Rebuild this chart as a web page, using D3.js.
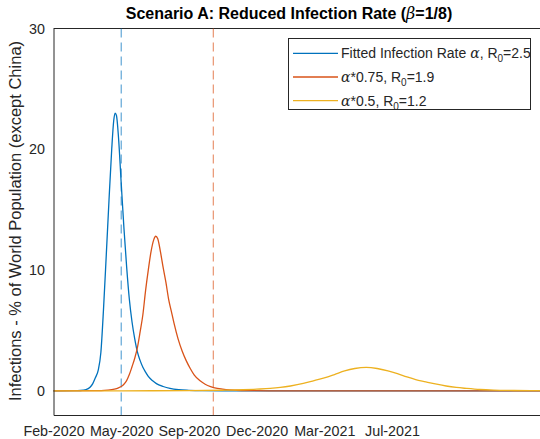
<!DOCTYPE html>
<html>
<head>
<meta charset="utf-8">
<script src="https://cdn.jsdelivr.net/npm/d3@7"></script>
<style>
body { margin: 0; background: #fff; }
text { font-family: "Liberation Sans", Arial, Helvetica, sans-serif; fill: #262626; }
</style>
</head>
<body>
<svg id="svg" width="540" height="439"></svg>
<script>
// days since start of axis (Feb-2020 tick)
var blueDays = [0, 30, 40, 48, 54, 58, 62, 66, 70, 74, 78, 82, 86, 89, 91, 93, 96, 100, 104, 108, 112, 116, 120, 124, 128, 132, 136, 140, 146, 152, 162, 172, 185, 200, 220, 250, 760];
var blueVals = [0, 0.01, 0.03, 0.1, 0.3, 0.6, 1.1, 1.7, 3.2, 6.9, 11.3, 15.8, 20.0, 22.4, 23.0, 22.8, 21.0, 17.2, 13.5, 10.3, 7.6, 5.7, 4.3, 3.2, 2.5, 1.95, 1.55, 1.2, 0.85, 0.6, 0.36, 0.2, 0.09, 0.04, 0.01, 0, 0];

var orangeDays = [0, 60, 80, 90, 96, 100, 104, 108, 112, 116, 120, 124, 128, 132, 136, 140, 144, 148, 151, 154, 158, 162, 166, 170, 174, 178, 184, 190, 196, 202, 208, 216, 224, 232, 242, 255, 270, 290, 320, 360, 760];
var orangeVals = [0, 0.01, 0.06, 0.14, 0.25, 0.36, 0.55, 0.85, 1.35, 2.0, 2.7, 3.6, 4.9, 6.3, 8.3, 10.0, 11.5, 12.5, 12.8, 12.6, 11.5, 10.2, 9.0, 7.6, 6.6, 5.6, 4.3, 3.3, 2.5, 1.85, 1.3, 0.85, 0.55, 0.35, 0.2, 0.1, 0.05, 0.02, 0.005, 0, 0];

var yellowDays = [0, 100, 200, 250, 280, 300, 320, 335, 350, 369, 385, 400, 415, 430, 445, 462, 478, 494, 508, 522, 535, 550, 566, 580, 595, 610, 630, 650, 680, 720, 760];
var yellowVals = [0, 0.005, 0.02, 0.05, 0.09, 0.14, 0.2, 0.28, 0.4, 0.61, 0.85, 1.07, 1.35, 1.65, 1.85, 1.94, 1.85, 1.65, 1.42, 1.15, 0.93, 0.75, 0.55, 0.4, 0.28, 0.2, 0.11, 0.06, 0.03, 0.01, 0];

var seriesNames = ["blue", "orange", "yellow"];
var seriesColors = ["#0072BD", "#D95319", "#EDB120"];
var peakLineDays = [100, 236];

var xTickDays = [0, 100, 200, 300, 400, 500];
var xTickLabels = ["Feb-2020", "May-2020", "Sep-2020", "Dec-2020", "Mar-2021", "Jul-2021"];
var yTicks = [0, 10, 20, 30];

var svg = d3.select("#svg");

var x = d3.scaleLinear().domain([0, 740]).range([53.5, 53.5 + 740 * 0.677]);
var y = d3.scaleLinear().domain([-2, 30]).range([415, 28.5]);

var plot = svg.append("g");

// frame
plot.append("line")
 .attr("x1", x(0)).attr("x2", 540)
 .attr("y1", y(30)).attr("y2", y(30))
 .style("stroke", "#262626").style("stroke-width", 1);

svg.append("g")
 .attr("transform", "translate(" + x(0) + ",0)")
 .call(d3.axisLeft(y).tickValues(yTicks).tickSize(0).tickPadding(8.5))
 .call(function(g){
  g.select(".domain").style("stroke", "#262626");
  g.selectAll("text").style("font-size", "14.3px").style("fill", "#262626").attr("font-family", null);
 });

svg.append("g")
 .attr("transform", "translate(0," + y(-2) + ")")
 .call(d3.axisBottom(x).tickValues(xTickDays).tickSize(0).tickPadding(11)
  .tickFormat(function(d, i){ return xTickLabels[i]; }))
 .call(function(g){
  g.select(".domain").style("stroke", "#262626");
  g.selectAll("text").style("font-size", "14.3px").style("fill", "#262626").attr("font-family", null);
 });

// dashed peak markers
plot.selectAll(".peak")
 .data(peakLineDays)
 .enter().append("line")
 .attr("x1", function(d){ return x(d); })
 .attr("x2", function(d){ return x(d); })
 .attr("y1", y(30)).attr("y2", y(-2))
 .style("stroke", function(d, i){ return seriesColors[i]; })
 .style("stroke-opacity", 0.75)
 .style("stroke-width", 1)
 .style("stroke-dasharray", "9,5");

var allDays = [blueDays, orangeDays, yellowDays];
var allVals = [blueVals, orangeVals, yellowVals];

var line = d3.line()
 .x(function(d){ return x(d[0]); })
 .y(function(d){ return y(d[1]); })
 .curve(d3.curveMonotoneX);

seriesNames.forEach(function(name, i){
 var pts = allDays[i].map(function(d, j){ return [d, allVals[i][j]]; });
 plot.append("path")
  .datum(pts)
  .attr("d", line)
  .style("fill", "none")
  .style("stroke", seriesColors[i])
  .style("stroke-width", 1.3);
});

// title
var title = svg.append("text")
 .attr("x", 289).attr("y", 19)
 .attr("text-anchor", "middle")
 .style("font-size", "16px")
 .style("font-weight", "bold")
 .style("fill", "#000");
title.append("tspan").text("Scenario A: Reduced Infection Rate (");
title.append("tspan").text("β").style("font-family", "'DejaVu Serif', serif").style("font-style", "italic").style("font-weight", "normal").style("fill", "#000");
title.append("tspan").text("=1/8)").style("fill", "#000");

// y label
svg.append("text")
 .attr("transform", "translate(21," + 221 + ") rotate(-90)")
 .attr("text-anchor", "middle")
 .style("font-size", "16.5px")
 .text("Infections - % of World Population (except China)");

// legend
var legendParts = [
 ["Fitted Infection Rate ", "α", ", R", "0", "=2.5"],
 ["", "α", "*0.75, R", "0", "=1.9"],
 ["", "α", "*0.5, R", "0", "=1.2"]
];

var legend = svg.append("g");
legend.append("rect")
 .attr("x", 288.5).attr("y", 38.5)
 .attr("width", 242).attr("height", 71)
 .style("fill", "#fff")
 .style("stroke", "#262626")
 .style("stroke-width", 1);

legendParts.forEach(function(p, i){
 var cy = 53.3 + i * 23.7;
 legend.append("line")
  .attr("x1", 293).attr("x2", 338)
  .attr("y1", cy).attr("y2", cy)
  .style("stroke", seriesColors[i])
  .style("stroke-width", 1.3);
 var t = legend.append("text")
  .attr("x", 341).attr("y", cy + 5)
  .style("font-size", "14px");
 if (p[0]) t.append("tspan").text(p[0]);
 t.append("tspan").text(p[1]).style("font-family", "'DejaVu Serif', serif").style("font-style", "italic");
 t.append("tspan").text(p[2]);
 t.append("tspan").text(p[3]).attr("dy", 4).style("font-size", "10px");
 t.append("tspan").text(p[4]).attr("dy", -4);
});
</script>
</body>
</html>
